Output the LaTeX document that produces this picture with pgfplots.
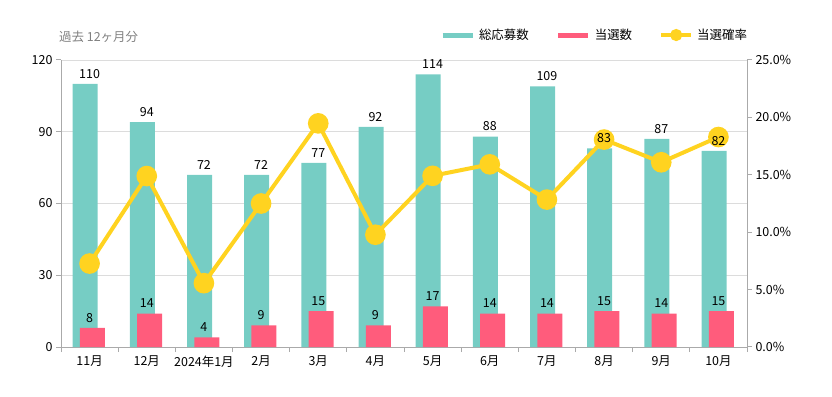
\documentclass[border=0pt]{standalone}
\usepackage{fontspec}
\setmainfont{Noto Sans CJK JP}
\usepackage{pgfplots}
\usepackage{pgfplotstable}
\pgfplotsset{compat=1.18}

\definecolor{cteal}{RGB}{118,205,196}
\definecolor{cred}{RGB}{255,92,124}
\definecolor{cyel}{RGB}{255,211,32}
\definecolor{cgrid}{RGB}{220,220,220}
\definecolor{caxis}{RGB}{170,170,170}
\definecolor{ctitle}{RGB}{128,128,128}

\pgfplotstableread{
x apply win rate
0 110 8 7.27
1 94 14 14.89
2 72 4 5.56
3 72 9 12.50
4 77 15 19.48
5 92 9 9.78
6 114 17 14.91
7 88 14 15.91
8 109 14 12.84
9 83 15 18.07
10 87 14 16.09
11 82 15 18.29
}\datatab

\newcommand{\lblfont}{\fontsize{12.5}{14}\selectfont}

\pgfplotsset{base/.style={
  scale only axis, width=686bp, height=287bp,
  at={(61bp,50bp)}, anchor=south west,
  xmin=-0.5, xmax=11.5,
  /pgf/number format/assume math mode=true,
  tick label style={font=\lblfont, text=black},
  tick align=outside,
  major tick length=5bp, minor tick length=5bp,
  axis line style={caxis, line width=1bp, -},
  every tick/.style={caxis, line width=1bp},
}}

\begin{document}
\begin{tikzpicture}
\path[use as bounding box] (0,0) rectangle (832bp,397bp);
\node[anchor=west, text=ctitle, font=\lblfont, inner sep=0pt] at (59bp,360bp) {過去 12ヶ月分};

% bars
\begin{axis}[base,
  ymin=0, ymax=120, ytick={0,30,60,90,120},
  ymajorgrids, grid style={cgrid, line width=0.8bp},
  axis y line*=left, axis x line*=bottom,
  xtick={0,...,11},
  xticklabels={11月,12月,2024年1月,2月,3月,4月,5月,6月,7月,8月,9月,10月},
  major x tick style={draw=none},
  minor xtick={-0.5,0.5,...,11.5},
  xtick style={caxis},
]
\addplot[ybar, bar width=25bp, bar shift=-4.4bp, fill=cteal, draw=none] table[x=x,y=apply]{\datatab};
\addplot[ybar, bar width=25bp, bar shift=2.9bp, fill=cred, draw=none] table[x=x,y=win]{\datatab};
\end{axis}

% line
\begin{axis}[base,
  ymin=0, ymax=25, ytick={0,5,10,15,20,25},
  axis y line*=right, axis x line=none,
  yticklabel={\pgfmathprintnumber[fixed,fixed zerofill,precision=1]{\tick}\%},
  legend columns=3,
  legend style={at={(0.5525,1.087)}, anchor=west, draw=none, fill=none,
    font=\lblfont, inner sep=0pt, outer sep=0pt,
    nodes={inner sep=0pt},
    /tikz/every odd column/.append style={column sep=4bp},
    /tikz/every even column/.append style={column sep=27bp}},
]
\addlegendimage{legend image code/.code={\draw[cteal, line width=5bp] (0bp,0bp) -- (30bp,0bp);}}
\addlegendentry{総応募数}
\addlegendimage{legend image code/.code={\draw[cred, line width=5bp] (0bp,0bp) -- (30bp,0bp);}}
\addlegendentry{当選数}
\addplot[cyel, line width=4bp, mark=*, mark size=8.3bp,
  mark options={fill=cyel, draw=none},
  legend image code/.code={\draw[cyel, line width=4bp] (0bp,0bp) -- (30bp,0bp); \fill[cyel] (15bp,0bp) circle (4bp);}]
  table[x=x,y=rate]{\datatab};
\addlegendentry{当選確率}
\end{axis}

% labels on top
\begin{axis}[base, hide axis, ymin=0, ymax=120]
\addplot[ybar, bar width=25bp, bar shift=-4.4bp, draw=none, fill=none,
  nodes near coords, every node near coord/.append style={font=\lblfont, text=black, yshift=2bp}]
  table[x=x,y=apply]{\datatab};
\addplot[ybar, bar width=25bp, bar shift=2.9bp, draw=none, fill=none,
  nodes near coords, every node near coord/.append style={font=\lblfont, text=black, yshift=2bp}]
  table[x=x,y=win]{\datatab};
\end{axis}
\end{tikzpicture}
\end{document}
